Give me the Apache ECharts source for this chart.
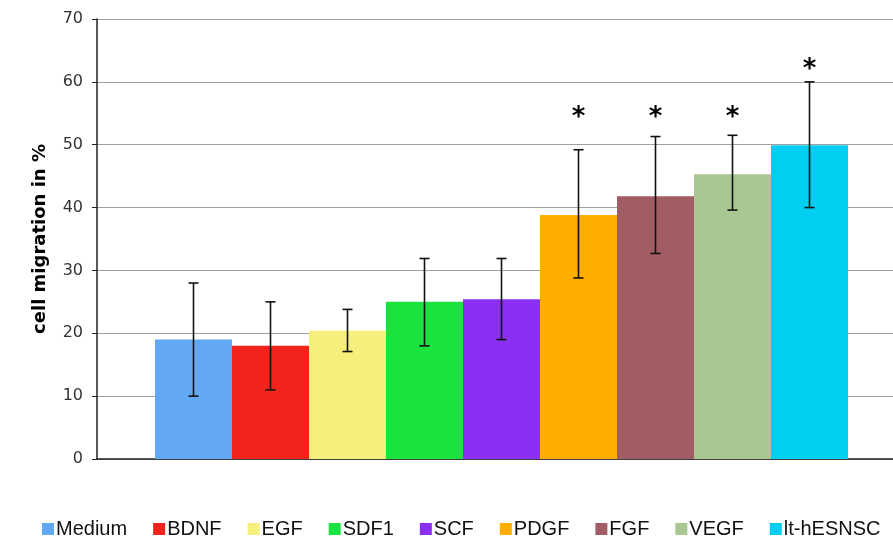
<!DOCTYPE html>
<html lang="en">
<head>
    <meta charset="utf-8">
    <title>cell migration</title>
    <style>
        html, body { margin: 0; padding: 0; background: #fff; }
        #chart { width: 893px; height: 542px; }
    </style>
</head>
<body>
    <div id="chart"></div>
    <script src="https://cdn.jsdelivr.net/npm/echarts@6/dist/echarts.min.js"></script>
    <script>
        // data
        var names = ['Medium', 'BDNF', 'EGF', 'SDF1', 'SCF', 'PDGF', 'FGF', 'VEGF', 'lt-hESNSC'];
        var means = [19, 18, 20.4, 25, 25.4, 38.8, 41.8, 45.3, 49.9];
        var errLow = [10, 11, 17.1, 18, 19, 28.8, 32.7, 39.6, 40];
        var errHigh = [28, 25, 23.8, 31.9, 31.9, 49.2, 51.3, 51.5, 60];
        var starAt = [null, null, null, null, null, 55.3, 55.3, 55.3, 63];
        var colors = ['#62a8f3', '#f1231a', '#f7ef7c', '#19e33c', '#8b30f2', '#ffae00', '#a15c64', '#a9c792', '#00cff2'];
        var yTicks = { min: 0, max: 70, step: 10 };

        var myChart = echarts.init(document.getElementById('chart'));

        var series = [];
        for (var i = 0; i < names.length; i++) {
            var d = [];
            for (var j = 0; j < names.length; j++) {
                d.push(j == i ? means[i] : '-');
            }
            series.push({
                name: names[i],
                type: 'bar',
                xAxisIndex: 1,
                yAxisIndex: 1,
                stack: 'all',
                barWidth: '100%',
                itemStyle: { color: colors[i] },
                data: d
            });
        }

        var errData = [];
        var starData = [];
        for (var k = 0; k < names.length; k++) {
            errData.push([k, errLow[k], errHigh[k]]);
            if (starAt[k] != null) starData.push([k, starAt[k]]);
        }

        // error bars
        series.push({
            type: 'custom',
            xAxisIndex: 1,
            yAxisIndex: 1,
            z: 10,
            renderItem: function (params, api) {
                var lo = api.coord([api.value(0), api.value(1)]);
                var hi = api.coord([api.value(0), api.value(2)]);
                var half = 5;
                var st = { stroke: '#111', lineWidth: 1.6 };
                return {
                    type: 'group',
                    children: [
                        { type: 'line', shape: { x1: lo[0], y1: lo[1], x2: hi[0], y2: hi[1] }, style: st },
                        { type: 'line', shape: { x1: lo[0] - half, y1: lo[1], x2: lo[0] + half, y2: lo[1] }, style: st },
                        { type: 'line', shape: { x1: hi[0] - half, y1: hi[1], x2: hi[0] + half, y2: hi[1] }, style: st }
                    ]
                };
            },
            data: errData
        });

        // significance marks
        series.push({
            type: 'custom',
            xAxisIndex: 1,
            yAxisIndex: 1,
            z: 10,
            renderItem: function (params, api) {
                var p = api.coord([api.value(0), api.value(1)]);
                return {
                    type: 'text',
                    x: p[0],
                    y: p[1] + 7,
                    style: {
                        text: '*',
                        fill: '#000',
                        font: 'bold 26px "DejaVu Sans"',
                        align: 'center',
                        verticalAlign: 'middle'
                    }
                };
            },
            data: starData
        });

        var option = {
            backgroundColor: '#fff',
            animation: false,
            legend: {
                data: names,
                top: 514,
                left: 37,
                icon: 'rect',
                itemWidth: 12,
                itemHeight: 12,
                itemGap: 26,
                textStyle: {
                    fontFamily: '"Liberation Sans Narrow", "Liberation Sans", Arial',
                    fontSize: 20,
                    color: '#111',
                    padding: [0, 0, 0, -3]
                }
            },
            grid: [
                { left: 97, right: 0, top: 19, bottom: 83 },
                { left: 155, right: 45, top: 19, bottom: 83 }
            ],
            xAxis: [{
                gridIndex: 0,
                type: 'category',
                data: [''],
                axisLine: { lineStyle: { color: '#222', width: 1.5 } },
                axisTick: { show: false },
                axisLabel: { show: false }
            }, {
                gridIndex: 1,
                type: 'category',
                data: names,
                show: false
            }],
            yAxis: [{
                gridIndex: 0,
                type: 'value',
                min: yTicks.min,
                max: yTicks.max,
                interval: yTicks.step,
                name: 'cell migration in %',
                nameLocation: 'middle',
                nameGap: 48,
                nameTextStyle: {
                    fontFamily: '"DejaVu Sans", Verdana',
                    fontWeight: 'bold',
                    fontSize: 18,
                    color: '#000'
                },
                axisLine: { show: true, lineStyle: { color: '#222', width: 1.5 } },
                axisTick: { show: true, length: 5, lineStyle: { color: '#222' } },
                axisLabel: {
                    fontFamily: '"DejaVu Sans", Verdana',
                    fontSize: 16,
                    color: '#333',
                    margin: 14
                },
                splitLine: { lineStyle: { color: '#a0a0a0', width: 1 } }
            }, {
                gridIndex: 1,
                type: 'value',
                min: yTicks.min,
                max: yTicks.max,
                show: false,
                splitLine: { show: false }
            }],
            series: series
        };
        myChart.setOption(option);
    </script>
</body>
</html>
